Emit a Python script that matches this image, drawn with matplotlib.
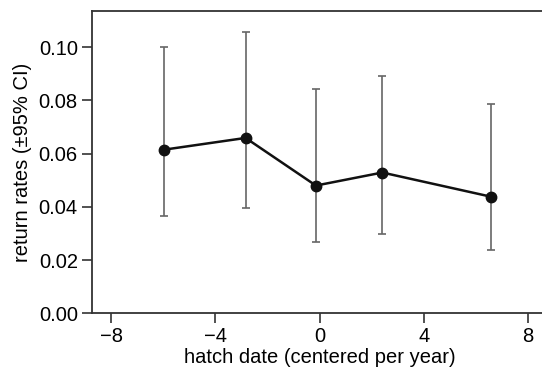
import matplotlib
matplotlib.use("Agg")
import matplotlib.pyplot as plt

plt.rcParams['font.family'] = ['Liberation Sans', 'DejaVu Sans']

# data
hatch_date = [-5.96, -2.84, -0.14, 2.41, 6.59]
return_rate = [0.0615, 0.0659, 0.0480, 0.0529, 0.0438]
ci_low = [0.0366, 0.0396, 0.0269, 0.0299, 0.0238]
ci_high = [0.1001, 0.1056, 0.0843, 0.0893, 0.0788]
x_ticks = [-8, -4, 0, 4, 8]
y_ticks = [0.00, 0.02, 0.04, 0.06, 0.08, 0.10]

err_lo = [m - l for m, l in zip(return_rate, ci_low)]
err_hi = [h - m for m, h in zip(return_rate, ci_high)]

fig = plt.figure(figsize=(5.42, 3.74), dpi=100)
ax = fig.add_axes([91.7/542, 1 - 313.3/374, (542 - 91.7)/542 + 0.01, (313.3 - 11)/374])

ax.errorbar(hatch_date, return_rate, yerr=[err_lo, err_hi], fmt='none',
            ecolor='#666666', elinewidth=1.2, capsize=3, capthick=1.2, zorder=2)
ax.plot(hatch_date, return_rate, color='#111111', lw=1.8, marker='o',
        markersize=7.5, markerfacecolor='#111111', zorder=3)

ax.set_xlim(-8.75, 8.75)
ax.set_ylim(0, 0.1136)
ax.set_xticks(x_ticks)
ax.set_xticklabels(['\u22128', '\u22124', '0', '4', '8'])
ax.set_yticks(y_ticks)
ax.set_yticklabels(['%.2f' % v for v in y_ticks])

for s in ['left', 'top', 'bottom']:
    ax.spines[s].set_color('#333333')
    ax.spines[s].set_linewidth(1.3)
ax.spines['right'].set_visible(False)
ax.tick_params(length=7, width=1.2, color='#333333', labelsize=14.5, pad=3)

ax.set_xlabel('hatch date (centered per year)', fontsize=14.5, labelpad=1)
ax.set_ylabel('return rates (\u00b195% CI)', fontsize=14.5, labelpad=5)

fig.savefig('out.png', dpi=100)
